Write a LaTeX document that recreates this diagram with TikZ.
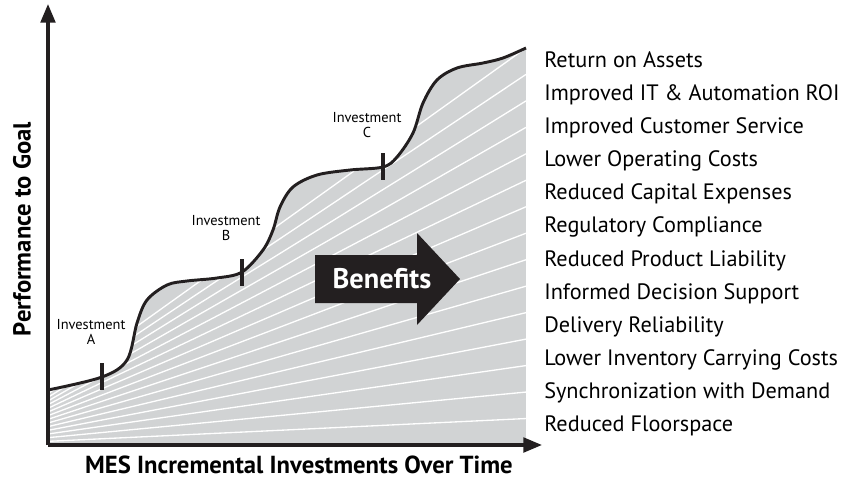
\documentclass[tikz,border=0pt]{standalone}
\usepackage{fontspec}
\setmainfont{PT Sans}
\usetikzlibrary{arrows.meta, positioning}

\definecolor{fillgray}{RGB}{209,211,212}
\definecolor{inkblack}{RGB}{35,31,32}

\begin{document}
\begin{tikzpicture}[
    x=0.75pt,
    y=-0.75pt,
    axis/.style={
        line width=2.4pt,
        draw=inkblack,
        -{Triangle[length=14pt, width=11pt]}
    },
    growth/.style={
        line width=2.2pt,
        draw=inkblack
    },
    marker/.style={
        line width=2.5pt,
        draw=inkblack
    },
    ray/.style={
        draw=white,
        line width=1pt
    },
    invest/.style={
        font=\fontsize{10.8}{11.8}\selectfont,
        align=center,
        inner sep=0pt
    },
    benefit/.style={
        font=\fontsize{16.7}{18}\selectfont,
        anchor=base west,
        inner sep=0pt
    },
    axislabel/.style={
        font=\bfseries\fontsize{18.5}{20}\selectfont,
        inner sep=0pt
    },
    arrowlabel/.style={
        text=white,
        font=\bfseries\fontsize{21.3}{22}\selectfont,
        inner sep=0pt
    }
]
\useasboundingbox (0,0) rectangle (843,486);

% Shaded area under the curve, with white rays
\begin{scope}
    \clip (48,445) -- plot[smooth, tension=0.55] coordinates {
        (48,390) (102,377) (127,360) (137,323) (147,300) (167,285)
        (187,281) (217,278) (242,272) (263,250) (273,230) (280,207)
        (293,187) (317,175) (350,170) (383,167) (397,157) (413,133)
        (423,103) (437,80) (457,68) (483,63) (503,58) (526,48)}
        -- (526,445) -- cycle;
    \fill[fillgray] (40,40) rectangle (526,450);
    \foreach \k in {1,...,15}
        \draw[ray] (48,{445-3.67*\k}) -- (526,{445-26.47*\k});
\end{scope}

% Curve of performance over time
\draw[growth] plot[smooth, tension=0.55] coordinates {
    (48,390) (102,377) (127,360) (137,323) (147,300) (167,285)
    (187,281) (217,278) (242,272) (263,250) (273,230) (280,207)
    (293,187) (317,175) (350,170) (383,167) (397,157) (413,133)
    (423,103) (437,80) (457,68) (483,63) (503,58) (526,48)};

% Axes
\coordinate (origin) at (48,445);
\coordinate (ytip) at (48,4);
\coordinate (xtip) at (542,445);
\draw[axis] (origin) -- (ytip);
\draw[axis] (origin) -- (xtip);

% Investment markers
\draw[marker] (102,363) -- (102,390);
\draw[marker] (242,259) -- (242,286);
\draw[marker] (383,153) -- (383,180);
\node[invest] (invA) at (91,332) {Investment\\A};
\node[invest] (invB) at (226,228) {Investment\\B};
\node[invest] (invC) at (367,125) {Investment\\C};

% Benefits arrow
\fill[inkblack] (315,255) -- (417,255) -- (417,233) -- (460,279)
    -- (417,325) -- (417,303) -- (315,303) -- cycle;
\node[arrowlabel] (benefits) at (382,279) {Benefits};

% Benefit list
\foreach \txt [count=\i from 0] in {
    Return on Assets,
    Improved IT \& Automation ROI,
    Improved Customer Service,
    Lower Operating Costs,
    Reduced Capital Expenses,
    Regulatory Compliance,
    Reduced Product Liability,
    Informed Decision Support,
    Delivery Reliability,
    Lower Inventory Carrying Costs,
    Synchronization with Demand,
    Reduced Floorspace}
    \node[benefit] (item\i) at (544,{67.3+33.13*\i}) {\txt};

% Axis labels
\node[axislabel] (xlabel) at (299,465) {MES Incremental Investments Over Time};
\node[axislabel, rotate=90] (ylabel) at (22,229) {Performance to Goal};

\end{tikzpicture}
\end{document}
